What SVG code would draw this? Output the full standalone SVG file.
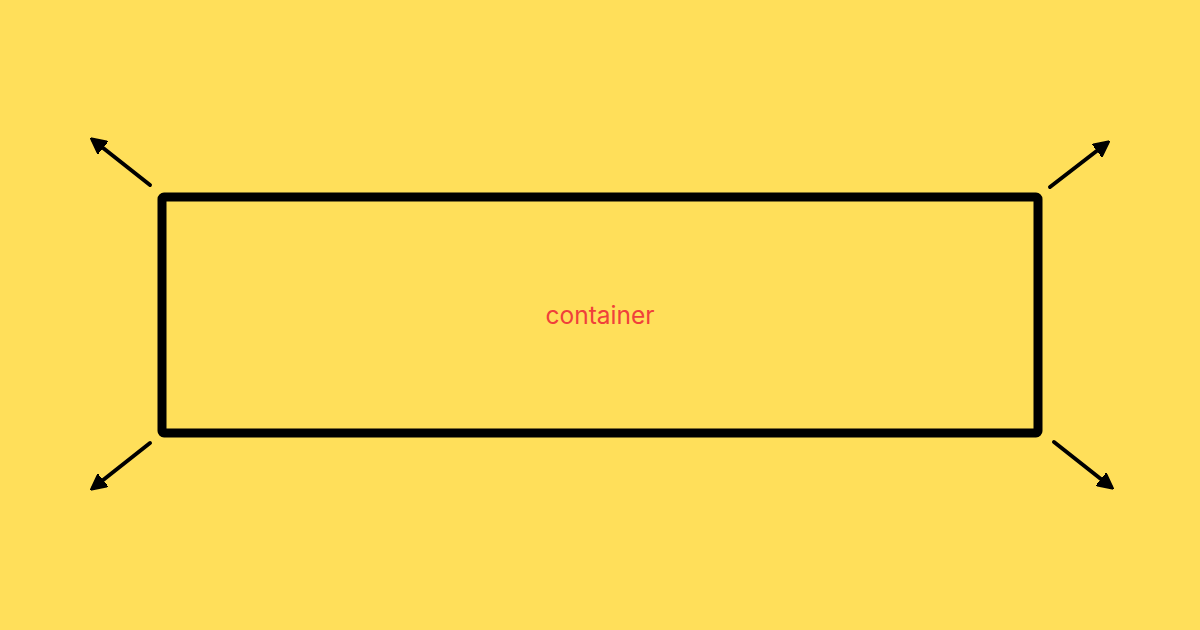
<svg xmlns="http://www.w3.org/2000/svg" width="1200" height="630" viewBox="0 0 1200 630">
<defs>
<style>
.bg{fill:#FFDF5A}
.box{fill:none;stroke:#000;stroke-width:9;stroke-linejoin:round}
.conn{stroke:#000;stroke-width:4;stroke-linecap:round;fill:none}
.label{font-family:Inter,"Liberation Sans",Arial,sans-serif;font-size:24.5px;fill:#F0403A;text-anchor:middle}
</style>
<marker id="ah" viewBox="0 0 10 10" refX="8" refY="5" markerWidth="4" markerHeight="4" orient="auto" markerUnits="strokeWidth">
<path d="M0,0 L10,5 L0,10 Z" fill="#000" stroke="#000" stroke-width="1" stroke-linejoin="round"/>
</marker>
</defs>
<rect class="bg" x="0" y="0" width="1200" height="630"/>
<g id="container">
<rect class="box" x="162" y="197" width="876" height="236" rx="2"/>
<text class="label" x="600" y="324">container</text>
</g>
<g id="connectors">
<line class="conn" x1="150" y1="185" x2="93" y2="140" marker-end="url(#ah)"/>
<line class="conn" x1="1050" y1="187" x2="1107" y2="143" marker-end="url(#ah)"/>
<line class="conn" x1="150" y1="443" x2="93" y2="488" marker-end="url(#ah)"/>
<line class="conn" x1="1054" y1="442" x2="1111" y2="487" marker-end="url(#ah)"/>
</g>
</svg>
